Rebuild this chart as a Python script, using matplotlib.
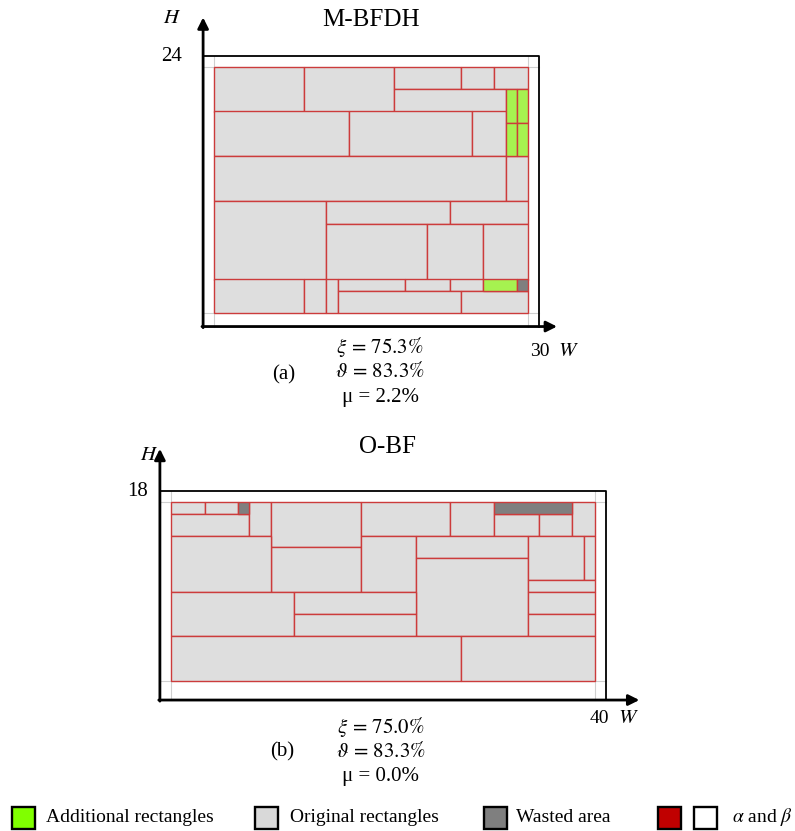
import matplotlib
matplotlib.use("Agg")
import matplotlib.pyplot as plt
from matplotlib.patches import Rectangle

plt.rcParams["font.family"] = ["Liberation Serif", "DejaVu Serif"]
plt.rcParams["mathtext.fontset"] = "stix"

# Rectangles as (x, y, w, h) inside the packing area (origin bottom-left)
# M-BFDH: bin 30 x 24, packing area 28 x 22
a_original = [
    (0, 18, 8, 4), (8, 18, 8, 4), (16, 20, 6, 2), (22, 20, 3, 2), (25, 20, 3, 2),
    (16, 18, 10, 2), (0, 14, 12, 4), (12, 14, 11, 4), (23, 14, 3, 4),
    (0, 10, 26, 4), (26, 10, 2, 4), (0, 3, 10, 7), (10, 8, 11, 2), (21, 8, 7, 2),
    (10, 3, 9, 5), (19, 3, 5, 5), (24, 3, 4, 5), (0, 0, 8, 3), (8, 0, 2, 3),
    (10, 0, 1, 3), (11, 2, 6, 1), (17, 2, 4, 1), (21, 2, 3, 1), (11, 0, 11, 2),
    (22, 0, 6, 2),
]
a_additional = [(26, 17, 1, 3), (27, 17, 1, 3), (26, 14, 1, 3), (27, 14, 1, 3),
                (24, 2, 3, 1)]
a_wasted = [(27, 2, 1, 1)]

# O-BF: bin 40 x 18, packing area 38 x 16
b_original = [
    (0, 15, 3, 1), (3, 15, 3, 1), (0, 13, 7, 2), (7, 13, 2, 3), (9, 12, 8, 4),
    (9, 8, 8, 4), (17, 13, 8, 3), (25, 13, 4, 3), (29, 13, 4, 2), (33, 13, 3, 2),
    (36, 13, 2, 3), (0, 8, 9, 5), (17, 8, 5, 5), (22, 11, 10, 2), (22, 4, 10, 7),
    (32, 9, 5, 4), (37, 9, 1, 4), (32, 8, 6, 1), (32, 6, 6, 2), (32, 4, 6, 2),
    (0, 4, 11, 4), (11, 6, 11, 2), (11, 4, 11, 2), (0, 0, 26, 4), (26, 0, 12, 4),
]
b_additional = []
b_wasted = [(6, 15, 1, 1), (29, 15, 7, 1)]

a_stats = [r"$\xi\,=\,75.3\%$", r"$\vartheta\,=\,83.3\%$", "μ = 2.2%"]
b_stats = [r"$\xi\,=\,75.0\%$", r"$\vartheta\,=\,83.3\%$", "μ = 0.0%"]

GREEN = "#a6f250"
LIGHT = "#dedede"
DARK = "#7f7f7f"
EDGE = "#cc3b3b"

FW, FH = 795, 831
fig = plt.figure(figsize=(FW / 100, FH / 100), dpi=100)


def panel_axes(ox, oy, s, xlim, ylim):
    # place an axes so that data unit = s pixels, data (0,0) at pixel (ox, oy)
    left = ox + xlim[0] * s
    right = ox + xlim[1] * s
    top = oy - ylim[1] * s
    bottom = oy - ylim[0] * s
    ax = fig.add_axes([left / FW, 1 - bottom / FH, (right - left) / FW, (bottom - top) / FH])
    ax.set_xlim(*xlim)
    ax.set_ylim(*ylim)
    ax.axis("off")
    return ax


def draw_panel(ax, W, H, axis_y, original, additional, wasted, ytop, xtip):
    m = 1
    # light frame of the packing area
    for x in (m, W - m):
        ax.plot([x, x], [axis_y, H], color="#cfcfcf", lw=0.8, zorder=1)
    for y in (m, H - m):
        ax.plot([0, W], [y, y], color="#cfcfcf", lw=0.8, zorder=1)
    # bin outline
    ax.plot([0, W, W], [H, H, axis_y], color="black", lw=1.3, zorder=2)
    for rects, color in ((original, LIGHT), (additional, GREEN), (wasted, DARK)):
        if not rects:
            continue
        xs = [r[0] + m for r in rects]
        ys = [r[1] + m for r in rects]
        ws = [r[2] for r in rects]
        hs = [r[3] for r in rects]
        ax.bar(xs, hs, width=ws, bottom=ys, align="edge", color=color,
               edgecolor=EDGE, linewidth=1.0, zorder=3)
    # axes arrows
    ax.annotate("", xy=(0, ytop), xytext=(0, axis_y - 0.1),
                arrowprops=dict(arrowstyle="-|>", lw=2.0, color="black",
                                mutation_scale=16, shrinkA=0, shrinkB=0), zorder=4)
    ax.annotate("", xy=(xtip, axis_y), xytext=(-0.1, axis_y),
                arrowprops=dict(arrowstyle="-|>", lw=2.0, color="black",
                                mutation_scale=16, shrinkA=0, shrinkB=0), zorder=4)


# panel (a)
axa = panel_axes(203.1, 324.3, 11.2, (-4, 36), (-8, 29))
draw_panel(axa, 30, 24, -0.2, a_original, a_additional, a_wasted, 27.4, 31.6)
axa.text(15, 27.15, "M-BFDH", ha="center", va="center", fontsize=18)
axa.text(-2.8, 27.3, "$H$", ha="center", va="center", fontsize=15)
axa.text(-2.8, 23.9, "24", ha="center", va="center", fontsize=15)
axa.text(30.1, -2.4, "30", ha="center", va="center", fontsize=14)
axa.text(32.6, -2.4, "$W$", ha="center", va="center", fontsize=15)
for i, s in enumerate(a_stats):
    axa.text(15.8, -2.05 - 2.25 * i, s, ha="center", va="center", fontsize=15)
axa.text(7.2, -4.5, "(a)", ha="center", va="center", fontsize=15)

# panel (b)
axb = panel_axes(159.9, 691.9, 11.15, (-3, 44), (-9, 23))
draw_panel(axb, 40, 18, -0.73, b_original, b_additional, b_wasted, 21.8, 43.0)
axb.text(20.4, 21.95, "O-BF", ha="center", va="center", fontsize=18)
axb.text(-1.0, 21.2, "$H$", ha="center", va="center", fontsize=15)
axb.text(-2.0, 18.0, "18", ha="center", va="center", fontsize=15)
axb.text(39.4, -2.4, "40", ha="center", va="center", fontsize=14)
axb.text(42.0, -2.4, "$W$", ha="center", va="center", fontsize=15)
for i, s in enumerate(b_stats):
    axb.text(19.8, -3.15 - 2.2 * i, s, ha="center", va="center", fontsize=15)
axb.text(11.0, -5.35, "(b)", ha="center", va="center", fontsize=15)

# legend strip along the bottom, in pixel coordinates
lax = fig.add_axes([0, 0, 1, 1])
lax.set_xlim(0, FW)
lax.set_ylim(FH, 0)
lax.axis("off")
lax.patch.set_alpha(0)
keys = [
    ([("#80ff00", 12)], "Additional rectangles", 46),
    ([("#d9d9d9", 255)], "Original rectangles", 290),
    ([("#7f7f7f", 484)], "Wasted area", 516),
    ([("#c00000", 658), ("white", 694)], r"$\alpha$ and $\beta$", 732),
]
for squares, label, tx in keys:
    for color, sx in squares:
        lax.add_patch(Rectangle((sx, 807), 23, 22, facecolor=color,
                                edgecolor="black", lw=1.7))
    lax.text(tx, 817, label, ha="left", va="center", fontsize=14)

fig.savefig("out.png", dpi=100)
